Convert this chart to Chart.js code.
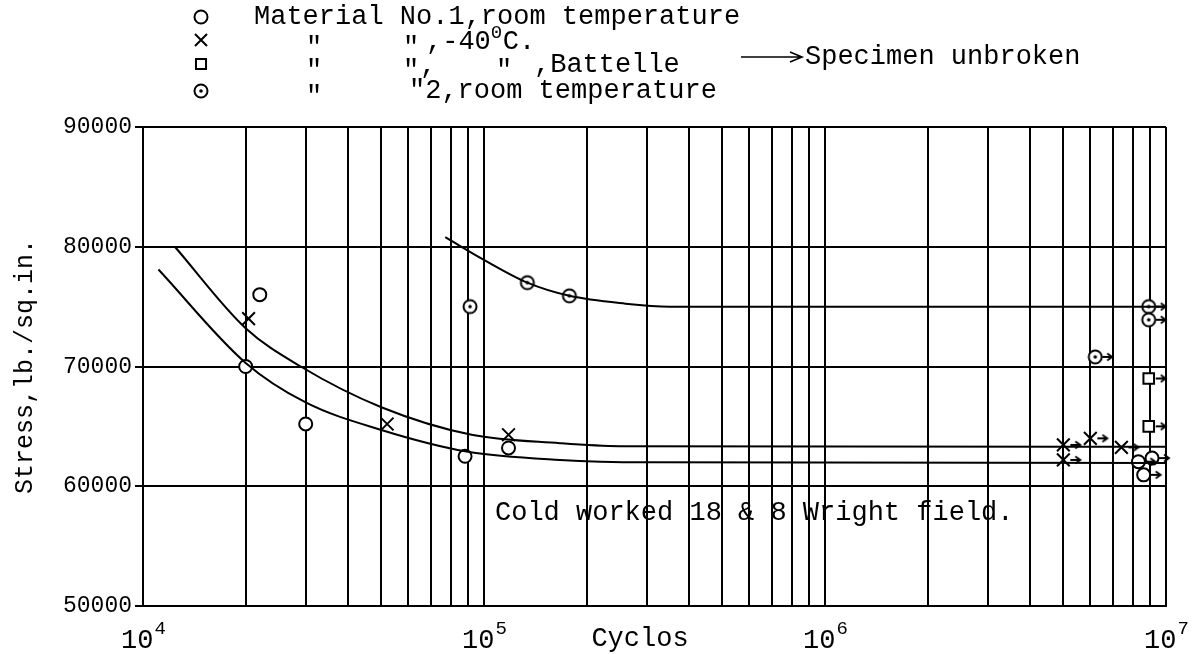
<!DOCTYPE html>
<html lang="en">
<head>
  <meta charset="UTF-8" />
  <title>Cold worked 18 & 8 - S-N curve</title>
  <script src="https://cdn.jsdelivr.net/npm/chart.js"></script>
  <style>
    body { margin: 0; background: #fff; }
  </style>
</head>
<body>
  <canvas id="snChart" width="1192" height="654"></canvas>

  <script>
  // ticks
  const xTicks = [1e4, 2e4, 3e4, 4e4, 5e4, 6e4, 7e4, 8e4, 9e4,
                  1e5, 2e5, 3e5, 4e5, 5e5, 6e5, 7e5, 8e5, 9e5,
                  1e6, 2e6, 3e6, 4e6, 5e6, 6e6, 7e6, 8e6, 9e6, 1e7];
  const yTicks = [50000, 60000, 70000, 80000, 90000];

  // Material No.1, room temperature (open circles)
  const roomCycles = [2.2e4, 2.0e4, 3.0e4, 8.8e4, 1.18e5];
  const roomStress = [76000, 70000, 65200, 62500, 63200];
  const roomRunoutCycles = [8.3e6, 9.1e6, 8.6e6];
  const roomRunoutStress = [62050, 62350, 60950];

  // Material No.1, -40 C (crosses)
  const coldCycles = [2.04e4, 5.2e4, 1.18e5];
  const coldStress = [74000, 65200, 64300];
  const coldRunoutCycles = [5.0e6, 6.0e6, 7.4e6, 5.0e6];
  const coldRunoutStress = [63450, 64000, 63250, 62200];

  // Material No.1, -40 C, Battelle (squares)
  const battelleRunoutCycles = [8.9e6, 8.9e6];
  const battelleRunoutStress = [69000, 65000];

  // Material No.2, room temperature (dotted circles)
  const no2Cycles = [9.1e4, 1.34e5, 1.78e5];
  const no2Stress = [75000, 77000, 75900];
  const no2RunoutCycles = [8.9e6, 8.9e6, 6.2e6];
  const no2RunoutStress = [75000, 73900, 70800];

  // faired curves
  const curveColdCycles = [1.24e4, 2.0e4, 2.9e4, 5.0e4, 9.2e4, 1.67e5, 2.5e5, 1e7];
  const curveColdStress = [80000, 73200, 70000, 66600, 64300, 63600, 63350, 63300];
  const curveRoomCycles = [1.11e4, 2.0e4, 3.0e4, 5.0e4, 8.9e4, 1.67e5, 3.0e5, 1e7];
  const curveRoomStress = [78100, 70300, 67000, 64700, 62900, 62200, 62000, 61950];
  const curveNo2Cycles = [7.7e4, 1.0e5, 1.34e5, 1.78e5, 2.6e5, 3.5e5, 1e7];
  const curveNo2Stress = [80800, 78900, 77000, 75900, 75250, 75000, 75000];

  const mono = '"Liberation Mono", "Courier New", monospace';

  function pts(xs, ys) {
    return xs.map((x, i) => ({ x: x, y: ys[i] }));
  }

  // dotted circle marker
  function dotCircle() {
    const c = document.createElement('canvas');
    c.width = 18; c.height = 18;
    const g = c.getContext('2d');
    g.fillStyle = '#fff';
    g.strokeStyle = '#000';
    g.lineWidth = 2;
    g.beginPath(); g.arc(9, 9, 6.5, 0, Math.PI * 2); g.fill(); g.stroke();
    g.fillStyle = '#000';
    g.beginPath(); g.arc(9, 9, 1.8, 0, Math.PI * 2); g.fill();
    return c;
  }

  // small "->" placed to the right of the point
  function arrowMark() {
    const c = document.createElement('canvas');
    c.width = 44; c.height = 14;
    const g = c.getContext('2d');
    g.strokeStyle = '#000';
    g.lineWidth = 1.8;
    g.beginPath();
    g.moveTo(29, 7); g.lineTo(38, 7);
    g.moveTo(34, 3.5); g.lineTo(39, 7); g.lineTo(34, 10.5);
    g.stroke();
    return c;
  }

  const dotImg = dotCircle();
  const arrowImg = arrowMark();

  const curveStyle = {
    type: 'line',
    showLine: true,
    borderColor: '#000',
    borderWidth: 2,
    pointRadius: 0,
    cubicInterpolationMode: 'monotone',
    fill: false
  };

  // legend, notes and x labels
  const notes = {
    id: 'notes',
    afterDraw(chart) {
      const ctx = chart.ctx;
      const xs = chart.scales.x;
      ctx.save();
      ctx.fillStyle = '#000';
      ctx.strokeStyle = '#000';
      ctx.textBaseline = 'middle';
      ctx.textAlign = 'left';
      ctx.font = '27px ' + mono;

      // legend symbols
      const sx = 201;
      ctx.lineWidth = 2;
      ctx.beginPath(); ctx.arc(sx, 17, 6.5, 0, Math.PI * 2); ctx.stroke();
      ctx.beginPath();
      ctx.moveTo(sx - 6, 34); ctx.lineTo(sx + 6, 46);
      ctx.moveTo(sx + 6, 34); ctx.lineTo(sx - 6, 46);
      ctx.stroke();
      ctx.strokeRect(sx - 5, 59, 10, 10);
      ctx.drawImage(dotImg, sx - 9, 82);

      // legend text
      ctx.fillText('Material No.1,room temperature', 254, 17);
      const ditto = (x, y) => ctx.fillText('"', x - 8, y + 7);
      ditto(314, 41); ditto(411, 41);
      ctx.fillText(',-40', 426, 42);
      ctx.font = '19px ' + mono;
      ctx.fillText('0', 426 + ctx.measureText(',').width * 27 / 19 * 4, 33);
      ctx.font = '27px ' + mono;
      ctx.fillText('C.', 426 + 16.2 * 4 + 12, 42);

      ditto(314, 64); ditto(411, 64);
      ctx.fillText(',', 420, 66);
      ditto(504, 64);
      ctx.fillText(',Battelle', 534, 65);

      ditto(314, 90);
      ctx.fillText('"2,room temperature', 409, 91);

      // specimen unbroken
      ctx.lineWidth = 1.6;
      ctx.beginPath();
      ctx.moveTo(741, 57); ctx.lineTo(801, 57);
      ctx.moveTo(790, 52); ctx.lineTo(802, 57); ctx.lineTo(790, 62);
      ctx.stroke();
      ctx.fillText('Specimen unbroken', 805, 57);

      // note inside plot
      ctx.fillText('Cold worked 18 & 8 Wright field.', 495, 513);

      // x labels 10^n
      [4, 5, 6, 7].forEach(p => {
        const px = xs.getPixelForValue(Math.pow(10, p));
        ctx.font = '27px ' + mono;
        const w1 = ctx.measureText('10').width;
        ctx.font = '19px ' + mono;
        const w2 = ctx.measureText(String(p)).width;
        const x0 = px - (w1 + w2) / 2;
        ctx.textBaseline = 'alphabetic';
        ctx.font = '27px ' + mono;
        ctx.fillText('10', x0, 648);
        ctx.font = '19px ' + mono;
        ctx.fillText(String(p), x0 + w1 + 1, 634);
      });
      ctx.font = '27px ' + mono;
      ctx.textAlign = 'center';
      ctx.fillText('Cyclos', 640, 646);
      ctx.restore();
    }
  };

  const ctx = document.getElementById('snChart').getContext('2d');

  new Chart(ctx, {
    type: 'scatter',
    data: {
      datasets: [
        Object.assign({ label: 'No.2 curve', data: pts(curveNo2Cycles, curveNo2Stress) }, curveStyle),
        Object.assign({ label: '-40 curve', data: pts(curveColdCycles, curveColdStress) }, curveStyle),
        Object.assign({ label: 'Room curve', data: pts(curveRoomCycles, curveRoomStress) }, curveStyle),
        {
          label: 'Specimen unbroken',
          data: pts(
            roomRunoutCycles.concat(coldRunoutCycles, battelleRunoutCycles, no2RunoutCycles),
            roomRunoutStress.concat(coldRunoutStress, battelleRunoutStress, no2RunoutStress)),
          pointStyle: arrowImg,
          clip: false
        },
        {
          label: 'Material No.1, room temperature',
          data: pts(roomCycles.concat(roomRunoutCycles), roomStress.concat(roomRunoutStress)),
          pointStyle: 'circle',
          pointRadius: 6.5,
          borderColor: '#000',
          backgroundColor: '#fff',
          borderWidth: 2,
          clip: false
        },
        {
          label: 'Material No.1, -40C',
          data: pts(coldCycles.concat(coldRunoutCycles), coldStress.concat(coldRunoutStress)),
          pointStyle: 'crossRot',
          pointRadius: 9,
          borderColor: '#000',
          borderWidth: 2,
          clip: false
        },
        {
          label: 'Battelle',
          data: pts(battelleRunoutCycles, battelleRunoutStress),
          pointStyle: 'rect',
          pointRadius: 7.5,
          borderColor: '#000',
          backgroundColor: '#fff',
          borderWidth: 2,
          clip: false
        },
        {
          label: 'Material No.2, room temperature',
          data: pts(no2Cycles.concat(no2RunoutCycles), no2Stress.concat(no2RunoutStress)),
          pointStyle: dotImg,
          clip: false
        }
      ]
    },
    options: {
      responsive: false,
      animation: false,
      layout: { padding: { top: 127, right: 26, bottom: 0, left: 0 } },
      plugins: {
        legend: { display: false },
        tooltip: { enabled: false }
      },
      scales: {
        x: {
          type: 'logarithmic',
          min: 1e4,
          max: 1e7,
          afterBuildTicks: a => { a.ticks = xTicks.map(v => ({ value: v })); },
          afterFit: a => { a.height = 48; },
          ticks: { display: false },
          grid: { color: '#000', lineWidth: 2, drawTicks: false },
          border: { color: '#000', width: 2 }
        },
        y: {
          min: 50000,
          max: 90000,
          afterBuildTicks: a => { a.ticks = yTicks.map(v => ({ value: v })); },
          afterFit: a => { a.width = 143; },
          ticks: {
            color: '#000',
            padding: 3,
            font: { family: mono, size: 23 },
            callback: v => String(v)
          },
          grid: { color: '#000', lineWidth: 2, tickLength: 8 },
          border: { color: '#000', width: 2 },
          title: {
            display: true,
            text: 'Stress,lb./sq.in.',
            color: '#000',
            font: { family: mono, size: 25 },
            padding: { top: 10, bottom: 0 }
          }
        }
      }
    },
    plugins: [notes]
  });
  </script>
</body>
</html>
